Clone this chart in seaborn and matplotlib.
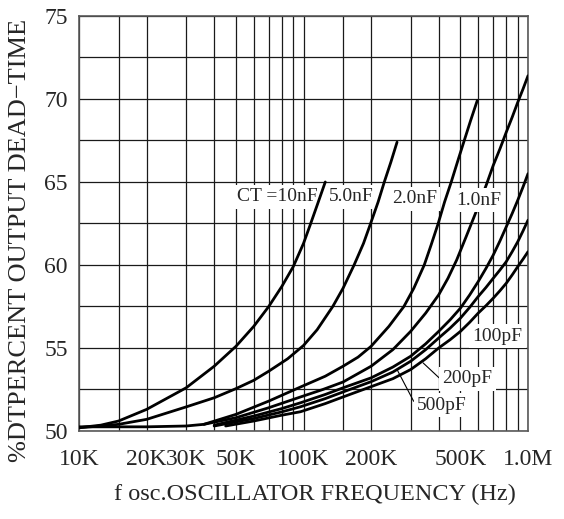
import pandas as pd
import matplotlib
matplotlib.use("Agg")
import matplotlib.pyplot as plt
import seaborn as sns
from matplotlib.ticker import FixedLocator, NullFormatter

# frequency in kHz, dead-time in %
f_10n = [10, 12.5, 15, 20, 30, 40, 50, 60, 70, 80, 90, 100, 107, 115, 125]
v_10n = [50.2, 50.35, 50.6, 51.3, 52.6, 53.9, 55.1, 56.3, 57.5, 58.7, 59.9, 61.3, 62.4, 63.6, 65.0]

f_5n = [10, 12.5, 15, 20, 30, 40, 50, 60, 70, 85, 100, 115, 135, 150, 168, 185, 199, 215, 229, 245, 261]
v_5n = [50.2, 50.3, 50.4, 50.7, 51.45, 52.0, 52.55, 53.05, 53.6, 54.35, 55.15, 56.1, 57.5, 58.6, 60.0, 61.3, 62.5, 63.8, 65.0, 66.2, 67.4]

f_2n = [10, 20, 30, 36, 50, 70, 97, 125, 150, 175, 200, 240, 280, 310, 345, 370, 398, 425, 455, 490, 520, 555, 594]
v_2n = [50.25, 50.25, 50.3, 50.4, 51.0, 51.8, 52.65, 53.3, 53.9, 54.45, 55.1, 56.3, 57.5, 58.6, 60.0, 61.2, 62.5, 63.8, 65.0, 66.4, 67.5, 68.7, 69.9]

f_1n = [36, 50, 70, 97, 122, 150, 200, 250, 300, 350, 400, 440, 481, 530, 591, 655, 700, 750, 800, 850, 900, 950, 1000]
v_1n = [50.4, 50.8, 51.4, 52.05, 52.5, 52.95, 53.9, 54.9, 56.0, 57.1, 58.2, 59.2, 60.3, 61.7, 63.3, 64.9, 66.0, 67.0, 68.0, 68.9, 69.8, 70.6, 71.4]

f_500p = [40, 60, 80, 97, 125, 150, 200, 250, 300, 350, 400, 450, 500, 550, 600, 650, 700, 750, 800, 850, 900, 950, 1000]
v_500p = [50.35, 50.9, 51.35, 51.7, 52.2, 52.6, 53.2, 53.85, 54.5, 55.25, 56.0, 56.7, 57.4, 58.2, 59.0, 59.8, 60.6, 61.45, 62.3, 63.1, 63.9, 64.7, 65.5]

f_200p = [40, 60, 80, 97, 125, 150, 200, 250, 300, 350, 400, 450, 500, 550, 600, 650, 700, 750, 800, 850, 900, 950, 1000]
v_200p = [50.3, 50.75, 51.15, 51.46, 51.95, 52.35, 52.97, 53.55, 54.2, 54.9, 55.6, 56.2, 56.8, 57.45, 58.1, 58.65, 59.2, 59.7, 60.2, 60.8, 61.4, 62.05, 62.7]

f_100p = [45, 60, 80, 97, 125, 150, 200, 250, 300, 350, 400, 450, 500, 550, 600, 650, 700, 750, 800, 850, 900, 950, 1000]
v_100p = [50.3, 50.6, 50.95, 51.16, 51.65, 52.05, 52.67, 53.15, 53.7, 54.35, 55.0, 55.5, 56.0, 56.55, 57.1, 57.55, 58.0, 58.45, 58.9, 59.4, 59.9, 60.35, 60.8]

curve_names = ["10nF", "5.0nF", "2.0nF", "1.0nF", "500pF", "200pF", "100pF"]
curve_f = [f_10n, f_5n, f_2n, f_1n, f_500p, f_200p, f_100p]
curve_v = [v_10n, v_5n, v_2n, v_1n, v_500p, v_200p, v_100p]

x_tick_khz = [10, 20, 30, 50, 100, 200, 500, 1000]
x_tick_labels = ["10K", "20K", "30K", "50K", "100K", "200K", "500K", "1.0M"]
x_grid_khz = [15, 20, 30, 40, 50, 60, 70, 80, 90, 100,
              150, 200, 300, 400, 500, 600, 700, 800, 900]
y_ticks = [50, 55, 60, 65, 70, 75]
y_grid = [52.5, 57.5, 62.5, 67.5, 72.5]

rows = []
for name, fs, vs in zip(curve_names, curve_f, curve_v):
    for f, v in zip(fs, vs):
        rows.append({"freq": f * 1000, "dt": v, "ct": name})
df = pd.DataFrame(rows)

sns.set_style("white")
plt.rcParams["font.family"] = ["Liberation Serif", "DejaVu Serif"]

fig = plt.figure(figsize=(5.64, 5.19), dpi=100)
ax = fig.add_axes([0.1401, 0.1696, 0.7961, 0.7996])

sns.lineplot(data=df, x="freq", y="dt", hue="ct", palette=["black"] * 7,
             estimator=None, sort=False, legend=False, linewidth=2.0, ax=ax, zorder=4,
             solid_joinstyle="round", solid_capstyle="round")

ax.set_xscale("log")
ax.set_xlim(1e4, 1e6)
ax.set_ylim(50, 75)

ax.xaxis.set_major_locator(FixedLocator([k * 1000 for k in x_tick_khz]))
ax.set_xticklabels(x_tick_labels)
ax.xaxis.set_minor_locator(FixedLocator([k * 1000 for k in x_grid_khz]))
ax.xaxis.set_minor_formatter(NullFormatter())
ax.set_yticks(y_ticks)
ax.yaxis.set_minor_locator(FixedLocator(y_grid))

ax.grid(True, which="both", color="0.1", linewidth=0.9)
ax.set_axisbelow(True)
ax.tick_params(which="both", length=0, labelsize=17)
ax.tick_params(axis="x", pad=13)
ax.tick_params(axis="y", pad=8)
for s in ax.spines.values():
    s.set_color("0.35")
    s.set_linewidth(1.2)

ax.set_xlabel("f osc.OSCILLATOR FREQUENCY (Hz)", fontsize=17.5)
ax.xaxis.label.set_va("baseline")
ax.xaxis.set_label_coords(0.526, -0.166)
ax.set_ylabel("%DTPERCENT OUTPUT DEAD\u2212TIME", fontsize=19)
ax.yaxis.label.set_va("center")
ax.yaxis.set_label_coords(-0.131, 0.458)

box = dict(facecolor="white", edgecolor="none", pad=2.5)
ax.text(116e3, 64.1, "CT =10nF", ha="right", va="center", fontsize=14, bbox=box, zorder=3)
ax.text(164e3, 64.1, "5.0nF", ha="center", va="center", fontsize=14, bbox=box, zorder=3)
ax.text(312e3, 64.0, "2.0nF", ha="center", va="center", fontsize=14, bbox=box, zorder=3)
ax.text(602e3, 63.9, "1.0nF", ha="center", va="center", fontsize=14, bbox=box, zorder=5)
ax.text(731e3, 55.7, "100pF", ha="center", va="center", fontsize=14, bbox=box, zorder=3)

lead = dict(arrowstyle="-", color="black", lw=0.8, shrinkA=0, shrinkB=0, relpos=(0, 0.35))
ax.annotate("200pF", xy=(341e3, 54.1), xytext=(538e3, 53.16), ha="center", va="center",
            fontsize=14, bbox=box, arrowprops=lead, zorder=3)
ax.annotate("500pF", xy=(261e3, 53.7), xytext=(414e3, 51.54), ha="center", va="center",
            fontsize=14, bbox=box, arrowprops=lead, zorder=3)

fig.savefig("out.png", dpi=100, facecolor="white")
